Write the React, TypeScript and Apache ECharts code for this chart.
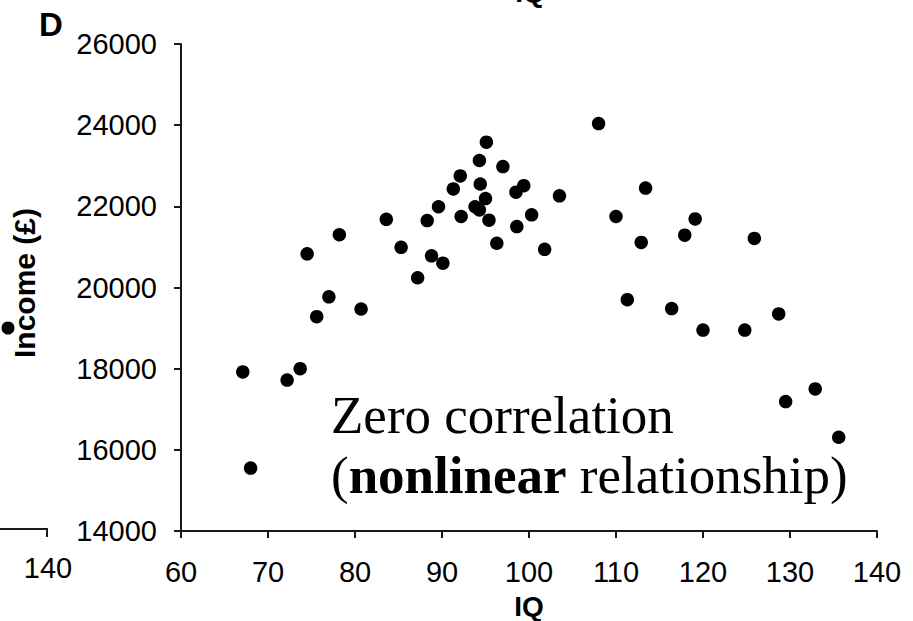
import React, { useEffect, useRef } from "react";
import * as echarts from "echarts";

const iqValues = [
  67.1, 68.0, 72.2, 73.7, 74.5, 75.6, 77.0, 78.2, 80.7, 83.6,
  85.3, 87.2, 88.3, 88.8, 89.6, 90.1, 91.3, 92.1, 92.2, 93.8,
  94.3, 94.3, 94.4, 95.0, 95.1, 95.4, 96.3, 97.0, 98.5, 98.6,
  99.4, 100.3, 101.8, 103.5, 108.0, 110.0, 111.3, 112.9, 113.4, 116.4,
  117.9, 119.1, 120.0, 124.8, 125.9, 128.7, 129.5, 132.9, 135.6,
];
const incomeValues = [
  17920, 15550, 17720, 18000, 20830, 19280, 19770, 21300, 19470, 21680,
  20990, 20240, 21650, 20780, 21990, 20600, 22430, 22750, 21750, 21990,
  21910, 23130, 22550, 22190, 23580, 21660, 21090, 22980, 22350, 21500,
  22510, 21790, 20940, 22260, 24040, 21750, 19700, 21110, 22450, 19480,
  21290, 21690, 18950, 18950, 21210, 19350, 17190, 17500, 16310,
];

const xMin = 60;
const xMax = 140;
const xStep = 10;
const yMin = 14000;
const yMax = 26000;
const yStep = 2000;

const xTitle = "IQ";
const yTitle = "Income (£)";
const panelLetter = "D";
const noteLine1 = "Zero correlation";
const noteLine2Pre = "(";
const noteLine2Bold = "nonlinear";
const noteLine2Post = " relationship)";
const strayTickLabel = "140";

export default function App() {
  const ref = useRef<HTMLDivElement>(null);

  useEffect(() => {
    document.body.style.margin = "0";
    const chart = echarts.init(ref.current!, null, { renderer: "svg" });
    const points = iqValues.map((x, i) => [x, incomeValues[i]]);
    const sans = "'Liberation Sans', Arial, sans-serif";
    const serif = "'Liberation Serif', 'Times New Roman', serif";
    const axisColor = "#1a1a1a";

    chart.setOption({
      animation: false,
      backgroundColor: "#ffffff",
      grid: {
        left: 181,
        right: 36,
        top: 44,
        bottom: 90,
        containLabel: false,
        outerBoundsMode: "none",
      },
      xAxis: {
        type: "value",
        min: xMin,
        max: xMax,
        interval: xStep,
        name: xTitle,
        nameLocation: "middle",
        nameGap: 61,
        nameTextStyle: { fontFamily: sans, fontSize: 28, fontWeight: "bold", color: "#000" },
        axisLine: { show: true, lineStyle: { color: axisColor, width: 2 } },
        axisTick: { show: true, inside: false, length: 7, lineStyle: { color: axisColor, width: 2 } },
        axisLabel: {
          margin: 26,
          fontFamily: sans,
          fontSize: 29,
          color: "#000",
          formatter: (v: number) => String(v),
        },
        splitLine: { show: false },
      },
      yAxis: {
        type: "value",
        min: yMin,
        max: yMax,
        interval: yStep,
        axisLine: { show: true, lineStyle: { color: axisColor, width: 2 } },
        axisTick: { show: true, inside: false, length: 7, lineStyle: { color: axisColor, width: 2 } },
        axisLabel: {
          margin: 24,
          fontFamily: sans,
          fontSize: 29,
          color: "#000",
          formatter: (v: number) => String(v),
        },
        splitLine: { show: false },
      },
      series: [
        {
          type: "scatter",
          data: points,
          symbol: "circle",
          symbolSize: 13.5,
          itemStyle: { color: "#000", opacity: 1 },
          emphasis: { disabled: true },
        },
      ],
      graphic: [
        {
          type: "text",
          left: 39,
          top: 8,
          style: { text: panelLetter, font: `bold 33px ${sans}`, fill: "#000" },
        },
        {
          type: "text",
          x: 530,
          y: -8,
          style: {
            text: xTitle,
            font: `bold 28px ${sans}`,
            fill: "#000",
            align: "center",
            verticalAlign: "middle",
          },
        },
        {
          type: "polyline",
          shape: { points: [[0, 529], [47, 529], [47, 537]] },
          style: { stroke: axisColor, lineWidth: 2, fill: null },
        },
        {
          type: "text",
          x: 48,
          y: 568,
          style: {
            text: strayTickLabel,
            font: `29px ${sans}`,
            fill: "#000",
            align: "center",
            verticalAlign: "middle",
          },
        },
        {
          type: "text",
          x: 24,
          y: 283,
          rotation: Math.PI / 2,
          style: {
            text: yTitle,
            font: `bold 30px ${sans}`,
            fill: "#000",
            align: "center",
            verticalAlign: "middle",
          },
        },
        {
          type: "circle",
          shape: { cx: 8, cy: 328, r: 6.5 },
          style: { fill: "#000" },
        },
        {
          type: "text",
          x: 331,
          y: 415,
          style: {
            text: noteLine1,
            font: `53px ${serif}`,
            fill: "#000",
            align: "left",
            verticalAlign: "middle",
          },
        },
        {
          type: "text",
          x: 331,
          y: 475,
          style: {
            text: `${noteLine2Pre}{b|${noteLine2Bold}}${noteLine2Post}`,
            font: `53px ${serif}`,
            fill: "#000",
            align: "left",
            verticalAlign: "middle",
            rich: {
              b: { fontFamily: serif, fontSize: 53, fontWeight: "bold", fill: "#000", color: "#000" },
            },
          },
        },
      ],
    });
    return () => chart.dispose();
  }, []);

  return (
    <div
      ref={ref}
      style={{ position: "fixed", left: 0, top: 0, width: 913, height: 621, background: "#fff" }}
    />
  );
}
